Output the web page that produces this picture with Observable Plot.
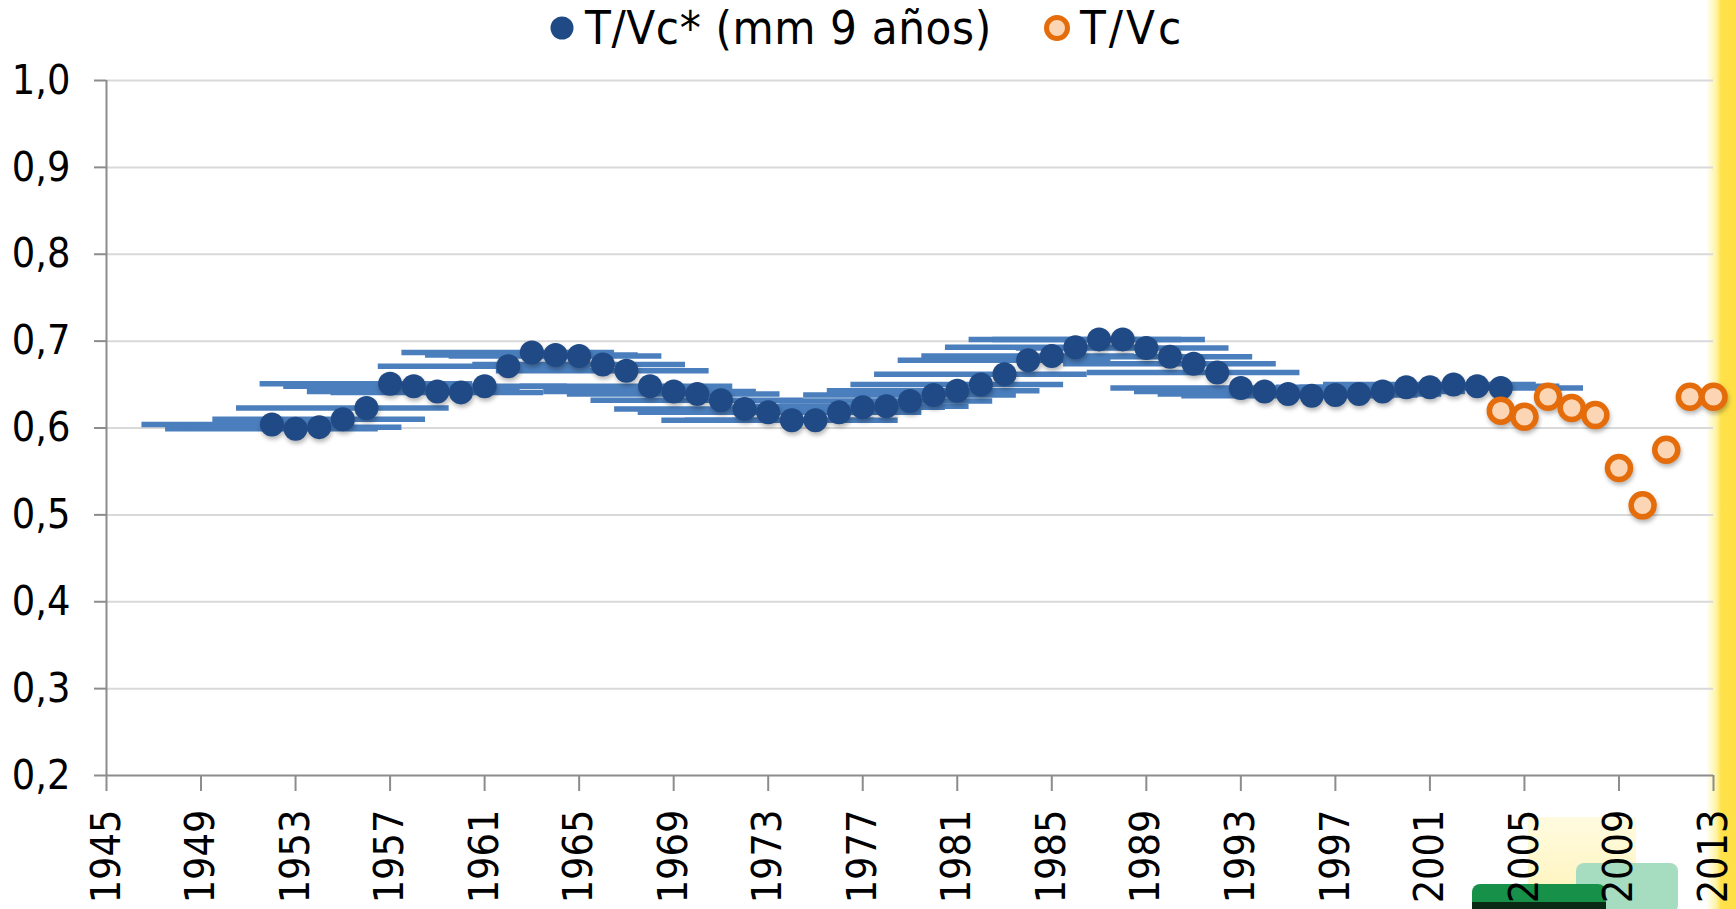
<!DOCTYPE html>
<html>
<head>
<meta charset="utf-8">
<script src="https://cdn.jsdelivr.net/npm/d3@7"></script>
<script src="https://cdn.jsdelivr.net/npm/@observablehq/plot@0.6"></script>
<style>
  html, body { margin: 0; padding: 0; background: #ffffff; }
  body { width: 1736px; height: 909px; position: relative; overflow: hidden;
         font-family: "DejaVu Sans Condensed", "DejaVu Sans", sans-serif; }
  .deco { position: absolute; z-index: 0; }
  #legend { position: relative; z-index: 1; height: 56px; }
  #chart { position: relative; z-index: 1; }
  #chart svg { background: transparent; }
  g[aria-label="dot"] { filter: drop-shadow(1px 3px 2px rgba(0,0,0,0.28)); }
</style>
</head>
<body>
<div class="deco" style="left:1706px;top:0;width:30px;height:909px;background:linear-gradient(to right, rgba(255,255,255,0) 0%, #fff3a0 35%, #ffe14a 50%, #ffdf45 100%);"></div>
<div class="deco" style="left:1528px;top:817px;width:108px;height:92px;background:linear-gradient(to bottom, #fffbe0, #fff3b8);"></div>
<div class="deco" style="left:1576px;top:863px;width:102px;height:50px;border-radius:8px;background:#a6dcc0;"></div>
<div class="deco" style="left:1472px;top:884px;width:134px;height:30px;border-radius:8px 8px 0 0;background:#17914a;"></div>
<div class="deco" style="left:1472px;top:902px;width:134px;height:7px;background:#0b2a16;"></div>
<div id="legend"></div>
<div id="chart"></div>
<script>
// ---- data ----
const blueYears = [1952,1953,1954,1955,1956,1957,1958,1959,1960,1961,1962,1963,1964,1965,1966,1967,1968,1969,1970,1971,1972,1973,1974,1975,1976,1977,1978,1979,1980,1981,1982,1983,1984,1985,1986,1987,1988,1989,1990,1991,1992,1993,1994,1995,1996,1997,1998,1999,2000,2001,2002,2003,2004];
const blueValues = [0.604,0.599,0.601,0.610,0.623,0.651,0.648,0.642,0.641,0.648,0.671,0.687,0.684,0.683,0.673,0.666,0.648,0.642,0.639,0.632,0.622,0.618,0.609,0.609,0.618,0.624,0.625,0.631,0.638,0.643,0.650,0.662,0.678,0.683,0.693,0.702,0.702,0.692,0.682,0.674,0.664,0.646,0.642,0.639,0.637,0.638,0.639,0.642,0.647,0.647,0.650,0.648,0.646];
const orangeYears = [2004,2005,2006,2007,2008,2009,2010,2011,2012,2013];
const orangeValues = [0.620,0.613,0.636,0.623,0.615,0.554,0.511,0.575,0.636,0.636];
const seriesNames = ["T/Vc* (mm 9 años)", "T/Vc"];
const xTicks = [1945,1949,1953,1957,1961,1965,1969,1973,1977,1981,1985,1989,1993,1997,2001,2005,2009,2013];
const yTicks = [0.2,0.3,0.4,0.5,0.6,0.7,0.8,0.9,1.0];
// 9-year window of each moving-average point (years before / after)
const windowBefore = 5.5, windowAfter = 3.5;

const blue = blueYears.map((year, i) => ({year, v: blueValues[i]}));
const orange = orangeYears.map((year, i) => ({year, v: orangeValues[i]}));

const BLUE = "#1f4a85", BAR = "#4a7ebd", ORANGE = "#e46c0a", PEACH = "#fcd5b5";
const AXIS = "#8c8c8c", GRID = "#d9d9d9";

// ---- legend ----
const lg = d3.select("#legend").append("svg").attr("width", 1736).attr("height", 56)
  .style("font-family", '"DejaVu Sans Condensed","DejaVu Sans",sans-serif');
lg.append("circle").attr("cx", 562).attr("cy", 28).attr("r", 11.5).attr("fill", BLUE);
lg.append("text").attr("x", 585).attr("y", 44).attr("font-size", 47).attr("letter-spacing", 0.6).attr("fill", "#000").text(seriesNames[0]);
lg.append("circle").attr("cx", 1057).attr("cy", 28).attr("r", 10.5).attr("fill", PEACH).attr("stroke", ORANGE).attr("stroke-width", 5);
lg.append("text").attr("x", 1080).attr("y", 44).attr("font-size", 47).attr("letter-spacing", 3).attr("fill", "#000").text(seriesNames[1]);

// ---- chart ----
const chart = Plot.plot({
  width: 1736,
  height: 853,
  marginTop: 24,
  marginBottom: 134,
  marginLeft: 106,
  marginRight: 23,
  style: {background: "transparent", fontSize: "41px", fontFamily: '"DejaVu Sans Condensed","DejaVu Sans",sans-serif', color: "#000"},
  x: {domain: [1945, 2013]},
  y: {domain: [0.2, 1.0]},
  marks: [
    Plot.gridY(yTicks.filter(t => t > 0.2), {stroke: GRID, strokeOpacity: 1, strokeWidth: 2}),
    Plot.ruleY([0.2], {stroke: AXIS, strokeWidth: 2}),
    Plot.ruleX([1945], {stroke: AXIS, strokeWidth: 2}),
    Plot.axisY({ticks: yTicks, tickFormat: d => d.toFixed(1).replace(".", ","), tickSize: 12, tickPadding: 24, stroke: AXIS, strokeWidth: 2, fill: "#000", label: null}),
    Plot.axisX({ticks: xTicks, tickFormat: d => String(d), tickSize: 16, tickPadding: 18, tickRotate: -90, stroke: AXIS, strokeWidth: 2, fill: "#000", label: null}),
    Plot.ruleY(blue, {x1: d => d.year - windowBefore, x2: d => d.year + windowAfter, y: "v", stroke: BAR, strokeWidth: 5.5}),
    Plot.dot(blue, {x: "year", y: "v", r: 12, fill: BLUE}),
    Plot.dot(orange, {x: "year", y: "v", r: 11.5, fill: PEACH, stroke: ORANGE, strokeWidth: 5.5})
  ]
});
document.getElementById("chart").appendChild(chart);
</script>
</body>
</html>
